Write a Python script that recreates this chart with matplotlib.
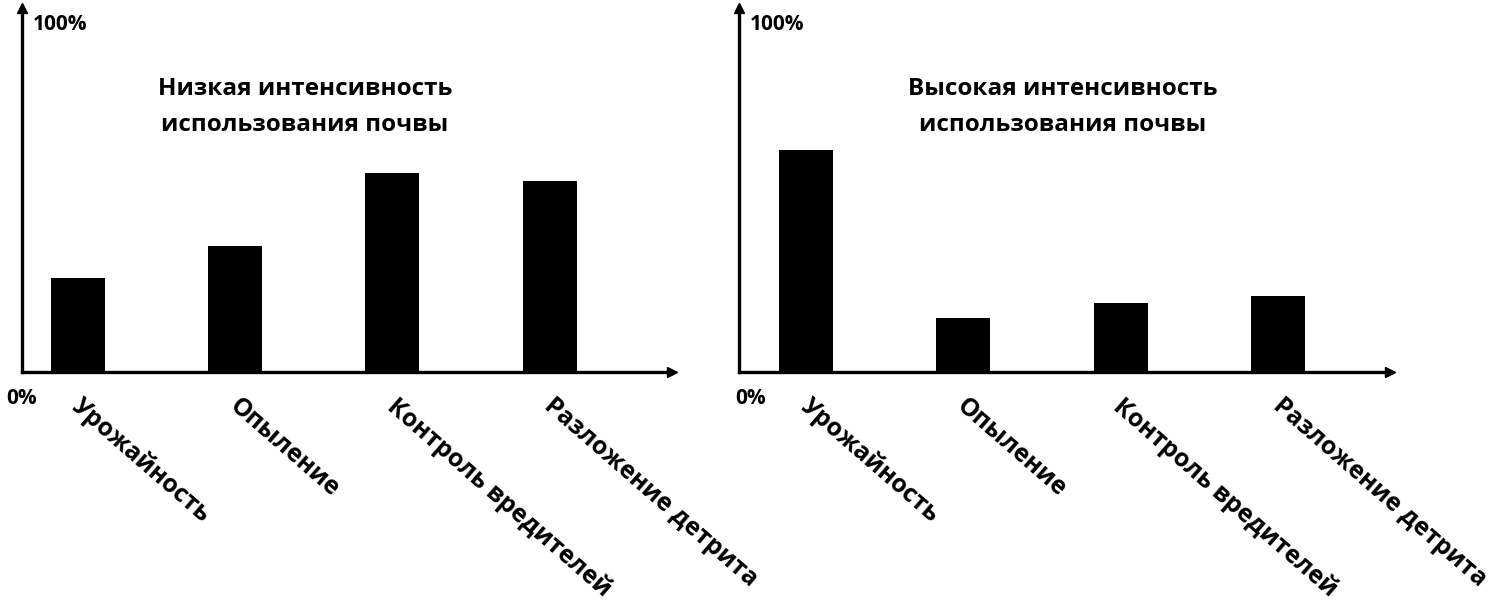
import matplotlib
matplotlib.use("Agg")
import matplotlib.pyplot as plt

categories = ["Урожайность", "Опыление", "Контроль вредителей", "Разложение детрита"]
low_values = [0.27, 0.36, 0.57, 0.545]
high_values = [0.635, 0.153, 0.197, 0.217]
titles = ["Низкая интенсивность\nиспользования почвы",
          "Высокая интенсивность\nиспользования почвы"]
top_label = "100%"
bottom_label = "0%"

plt.rcParams['font.family'] = ['Open Sans', 'DejaVu Sans']

W, H = 1500, 608
fig = plt.figure(figsize=(15, 6.08), dpi=100)

def px_axes(x0, x1, ybot, ytop):
    return fig.add_axes([x0 / W, 1 - ybot / H, (x1 - x0) / W, (ybot - ytop) / H])

panels = [
    dict(x0=22, x1=672, centers_px=[77.5, 235, 392.5, 549.5], vals=low_values,
         title=titles[0], title_x=305, zero_x=22),
    dict(x0=739, x1=1390, centers_px=[806, 962, 1118, 1278], vals=high_values,
         title=titles[1], title_x=1063, zero_x=751),
]

ybot, ytop, y100 = 372, 8, 22
ymax = (ybot - ytop) / (ybot - y100)

for p in panels:
    ax = px_axes(p['x0'], p['x1'], ybot, ytop)
    spacing = (p['centers_px'][-1] - p['centers_px'][0]) / 3
    left = -(p['centers_px'][0] - p['x0']) / spacing
    right = 3 + (p['x1'] - p['centers_px'][-1]) / spacing
    ax.set_xlim(left, right)
    ax.set_ylim(0, ymax)
    ax.bar(range(len(categories)), p['vals'], width=54 / spacing, color='black')
    for s in ['top', 'right']:
        ax.spines[s].set_visible(False)
    for s in ['left', 'bottom']:
        ax.spines[s].set_linewidth(2.4)
        ax.spines[s].set_color('black')
    ax.set_xticks([])
    ax.set_yticks([])
    ax.plot([0], [1], marker='^', color='black', markersize=7, transform=ax.transAxes, clip_on=False)
    ax.plot([1], [0], marker='>', color='black', markersize=7, transform=ax.transAxes, clip_on=False)
    # labels
    fig.text((p['x0'] + 11) / W, 1 - 25 / H, top_label,
             ha='left', va='center', fontsize=15, fontweight='bold')
    fig.text(p['zero_x'] / W, 1 - 398 / H, bottom_label, ha='center', va='center',
             fontsize=15, fontweight='bold')
    fig.text(p['title_x'] / W, 1 - 107 / H, p['title'], ha='center', va='center',
             fontsize=17.5, fontweight='bold', linespacing=1.65)
    for i, cat in enumerate(categories):
        fig.text((p['centers_px'][i] - 2) / W, 1 - 403 / H, cat, rotation=-41,
                 rotation_mode='anchor', ha='left', va='center',
                 fontsize=17.8, fontweight='bold')

fig.savefig("out.png", dpi=100, facecolor='white')
